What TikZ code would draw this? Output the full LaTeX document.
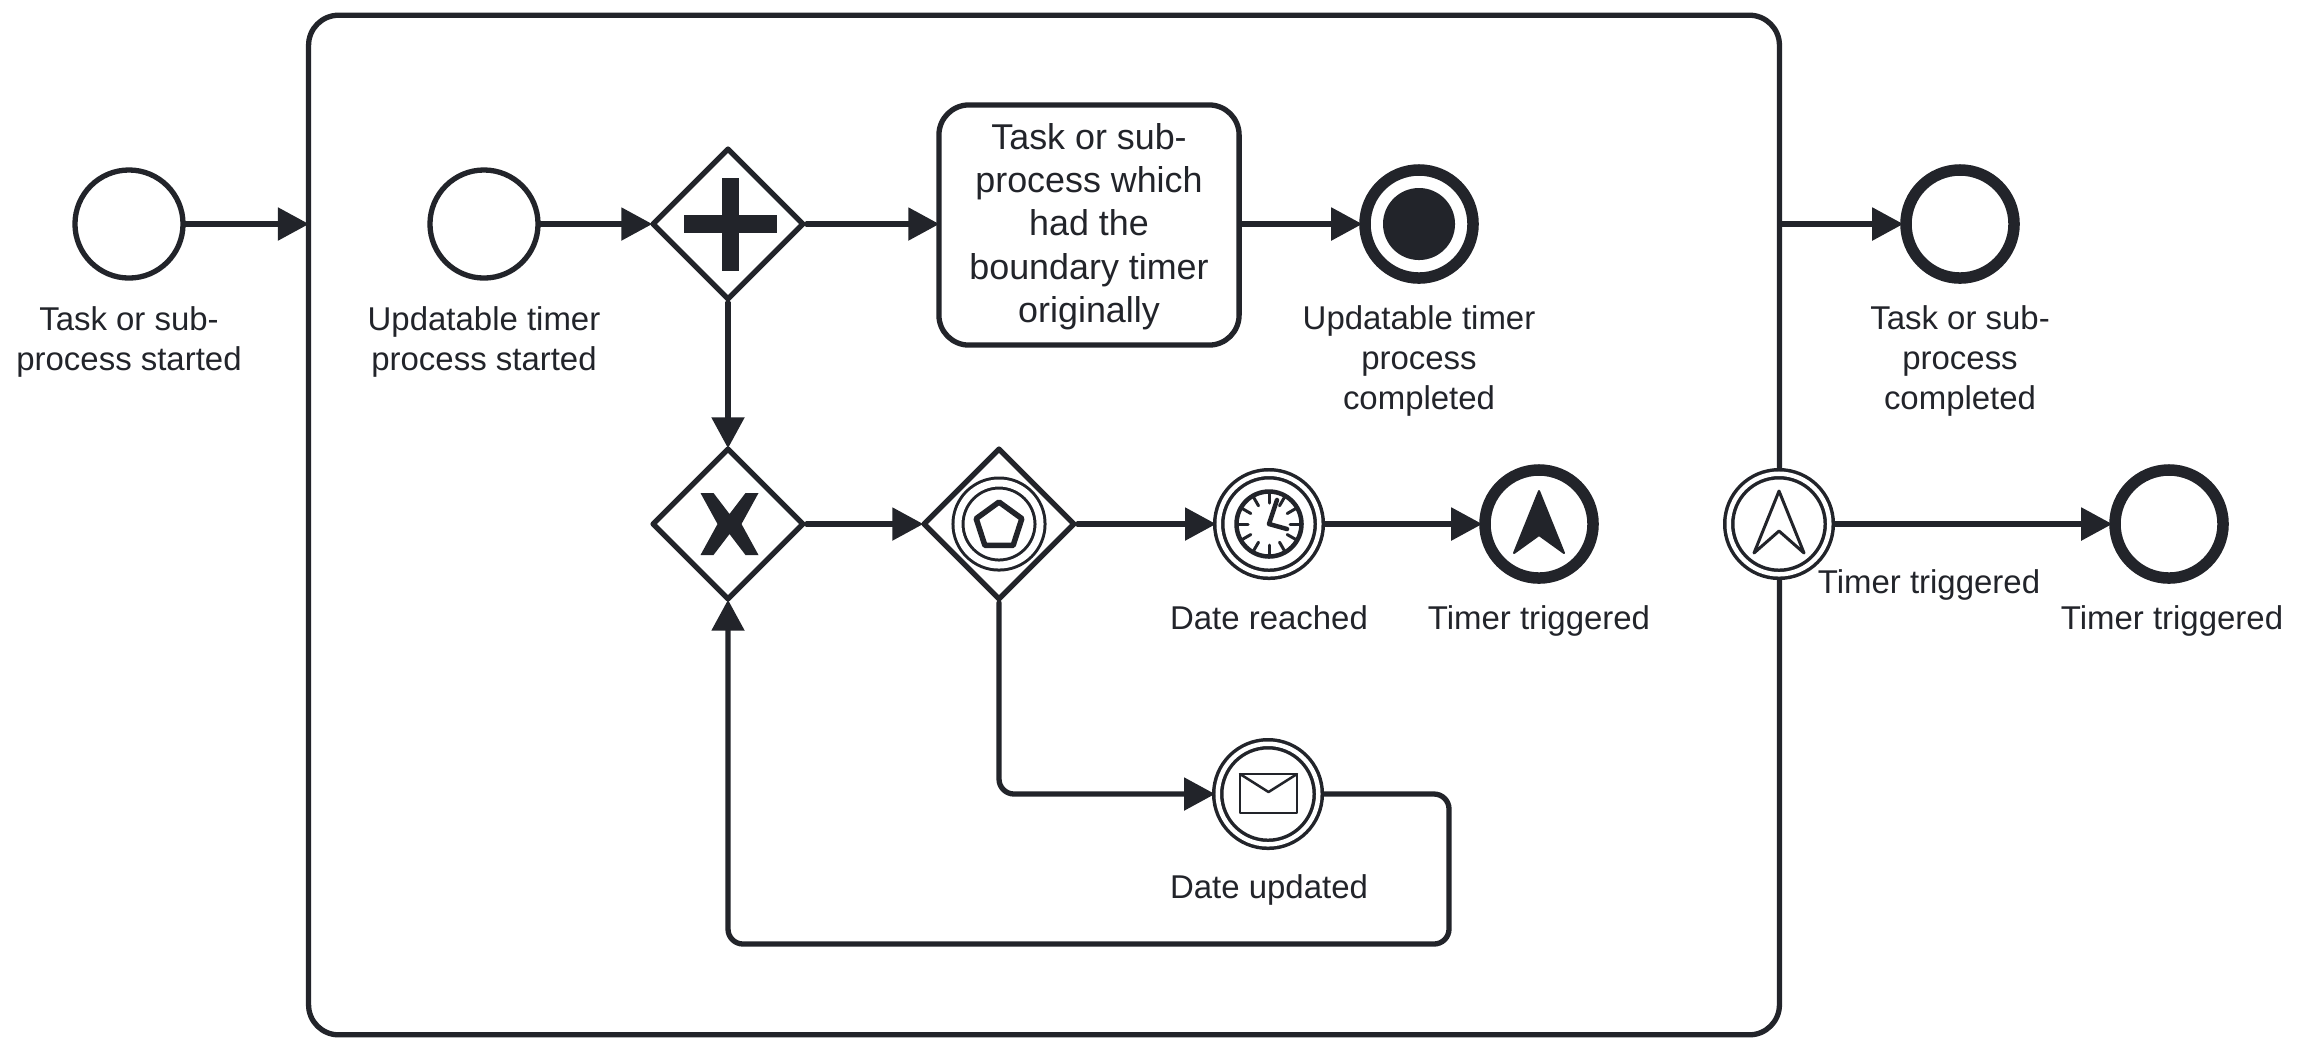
\documentclass[tikz,border=0pt]{standalone}
\usepackage{fontspec}
\setmainfont{Liberation Sans}
\usetikzlibrary{arrows.meta, shapes.geometric}

\definecolor{ink}{HTML}{22242A}

\tikzset{
    flow/.style={draw=ink, line width=0.053cm, shorten >=-0.03cm, -{Triangle[length=0.31cm, width=0.32cm]}},
    blank/.style={draw=ink, fill=white, line width=0.053cm, inner sep=0pt},
    startev/.style={blank, circle, minimum size=1.08cm},
    endev/.style={blank, circle, line width=0.115cm, minimum size=1.08cm},
    catchev/.style={blank, circle, line width=0.035cm, double, double distance=0.045cm,
        minimum size=1.005cm, outer sep=0.057cm},
    gateway/.style={blank, diamond, aspect=1, minimum size=1.52cm},
    caption/.style={text=ink, align=center, inner sep=0pt, font=\fontsize{9.37}{11.26}\selectfont},
    boxtext/.style={text=ink, align=center, inner sep=0pt, font=\fontsize{10.2}{12.3}\selectfont}
}

\begin{document}
\begin{tikzpicture}[x=0.01cm, y=-0.01cm, line join=round, line cap=round]

    \useasboundingbox (0,0) rectangle (2298,1050);

    % 1. Outer sub-process and inner task
    \node[blank, rounded corners=0.3cm, minimum width=14.70cm, minimum height=10.19cm] (sub) at (1044,525) {};
    \node[blank, rounded corners=0.3cm, minimum width=3.00cm, minimum height=2.40cm] (task) at (1089,225) {};
    \node[boxtext] (tasktext) at (1089,226.5) {Task or sub-\\process which\\had the\\boundary timer\\originally};

    % 2. Top row events and gateway
    \node[startev] (outerstart) at (129,224) {};
    \node[startev] (innerstart) at (484,224) {};
    \node[gateway] (split) at (728,224) {};
    \node[endev] (innerend) at (1419,224) {};
    \node[draw=none, fill=ink, circle, minimum size=0.72cm, inner sep=0pt] (innerdot) at (innerend) {};
    \node[endev] (outerend) at (1960,224) {};

    % 3. Middle row
    \node[gateway] (merge) at (728,524) {};
    \node[gateway] (choice) at (999,524) {};
    \node[catchev, line width=0.03cm, double distance=0.07cm, minimum size=0.82cm, outer sep=0pt] (choicering) at (choice) {};
    \node[draw=ink, line width=0.055cm, regular polygon, regular polygon sides=5, minimum size=0.48cm, inner sep=0pt] (pentagon) at (999,526) {};
    \node[catchev] (clock) at (1269,524) {};
    \node[endev] (escal) at (1539,524) {};
    \node[catchev] (boundary) at (1779,524) {};
    \node[endev] (timerend) at (2169,524) {};

    % 4. Lower row
    \node[catchev] (mail) at (1268,794) {};
    \coordinate (loopcorner) at (1449,944);

    % 5. Connectors
    \draw[flow] (outerstart) -- (outerstart -| sub.west);
    \draw[flow] (innerstart) -- (split);
    \draw[flow] (split) -- (split -| task.west);
    \draw[flow] (task.east |- innerend) -- (innerend);
    \draw[flow] (sub.east |- outerend) -- (outerend);
    \draw[flow] (split) -- (merge);
    \draw[flow] (merge) -- (choice);
    \draw[flow] (choice) -- (clock);
    \draw[flow] (clock) -- (escal);
    \draw[flow] (boundary) -- (timerend);
    \draw[flow, rounded corners=0.15cm] (choice.south) |- (mail.west);
    \draw[flow, rounded corners=0.15cm] (mail.east) -| (loopcorner) -| (merge.south);

    % 6. Gateway markers
    \fill[ink, shift={(split.center)}] (-44,-9) rectangle (49,9);
    \fill[ink, shift={(split.center)}] (-6,-46) rectangle (11,47);
    \fill[ink, shift={(merge.center)}] (-27.5,-31) -- (-14.5,-31) -- (1.5,-10) -- (17.5,-31) -- (30.5,-31)
        -- (13.5,0) -- (30.5,31) -- (17.5,31) -- (1.5,10) -- (-14.5,31) -- (-27.5,31) -- (-10.5,0) -- cycle;

    % 7. Clock marker
    \draw[ink, line width=0.045cm] (clock) circle (32.5);
    \foreach \a in {0,30,...,330} {
        \draw[ink, line width=0.03cm, shift={(clock.center)}] (\a:21) -- (\a:31);
    }
    \draw[ink, line width=0.045cm, shift={(clock.center)}] (8,-24) -- (0,0) -- (18,5);

    % 8. Envelope marker
    \draw[ink, line width=0.025cm] (1240,774) rectangle (1297,813);
    \draw[ink, line width=0.025cm] (1240,774) -- (1268.5,792) -- (1297,774);

    % 9. Arrow markers
    \fill[ink, draw=ink, line width=0.02cm, shift={(escal.center)}] (0,-33) -- (25,29) -- (0,11) -- (-25,29) -- cycle;
    \draw[ink, line width=0.03cm, shift={(boundary.center)}] (0,-33) -- (25,29) -- (0,7) -- (-25,29) -- cycle;

    % 10. Labels
    \node[caption] (outerstartlabel) at (129,342) {Task or sub-\\process started};
    \node[caption] (innerstartlabel) at (484,342) {Updatable timer\\process started};
    \node[caption] (innerendlabel) at (1419,361) {Updatable timer\\process\\completed};
    \node[caption] (outerendlabel) at (1960,361) {Task or sub-\\process\\completed};
    \node[caption] (clocklabel) at (1269,618) {Date reached};
    \node[caption] (escallabel) at (1539,621) {Timer triggered};
    \node[caption] (maillabel) at (1269,890) {Date updated};
    \node[caption] (boundarylabel) at (1929,585) {Timer triggered};
    \node[caption] (timerendlabel) at (2172,621) {Timer triggered};

\end{tikzpicture}
\end{document}
